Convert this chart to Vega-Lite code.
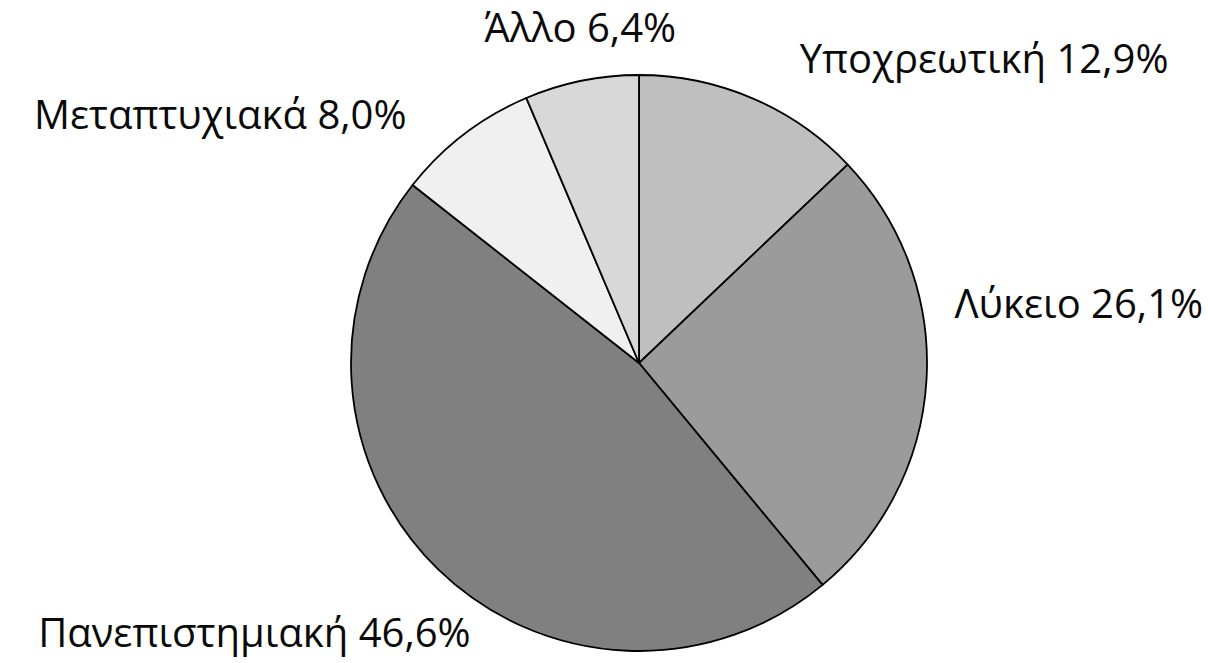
{
  "$schema": "https://vega.github.io/schema/vega-lite/v6.json",
  "autosize": "none",
  "width": 576,
  "height": 576,
  "padding": {"left": 351, "top": 75, "right": 281, "bottom": 12},
  "background": "white",
  "config": {"view": {"stroke": null}, "text": {"font": "Open Sans", "fontSize": 40, "color": "#0a0a0a"}},
  "data": {"values": [
    {"cat": "Υποχρεωτική", "value": 12.9, "order": 1, "label": "Υποχρεωτική 12,9%"},
    {"cat": "Λύκειο", "value": 26.1, "order": 2, "label": "Λύκειο 26,1%"},
    {"cat": "Πανεπιστημιακή", "value": 46.6, "order": 3, "label": "Πανεπιστημιακή 46,6%"},
    {"cat": "Μεταπτυχιακά", "value": 8.0, "order": 4, "label": "Μεταπτυχιακά 8,0%"},
    {"cat": "Άλλο", "value": 6.4, "order": 5, "label": "Άλλο 6,4%"}
  ]},
  "encoding": {
    "theta": {"field": "value", "type": "quantitative", "stack": true},
    "order": {"field": "order", "type": "quantitative"}
  },
  "layer": [
    {
      "mark": {"type": "arc", "stroke": "black", "strokeWidth": 1.8},
      "encoding": {
        "color": {
          "field": "cat", "type": "nominal", "legend": null,
          "scale": {
            "domain": ["Υποχρεωτική", "Λύκειο", "Πανεπιστημιακή", "Μεταπτυχιακά", "Άλλο"],
            "range": ["#bfbfbf", "#9b9b9b", "#808080", "#f0f0f0", "#d8d8d8"]
          }
        }
      }
    },
    {
      "mark": {"type": "text", "radius": 329, "align": "left", "baseline": "middle", "dx": 31},
      "encoding": {"text": {"condition": {"test": "datum.cat === 'Υποχρεωτική'", "field": "label", "type": "nominal"}, "value": ""}}
    },
    {
      "mark": {"type": "text", "radius": 316, "align": "left", "baseline": "middle", "dy": -76},
      "encoding": {"text": {"condition": {"test": "datum.cat === 'Λύκειο'", "field": "label", "type": "nominal"}, "value": ""}}
    },
    {
      "mark": {"type": "text", "radius": 380, "align": "right", "baseline": "middle", "dx": 97},
      "encoding": {"text": {"condition": {"test": "datum.cat === 'Πανεπιστημιακή'", "field": "label", "type": "nominal"}, "value": ""}}
    },
    {
      "mark": {"type": "text", "radius": 310, "align": "right", "baseline": "middle", "dx": -44},
      "encoding": {"text": {"condition": {"test": "datum.cat === 'Μεταπτυχιακά'", "field": "label", "type": "nominal"}, "value": ""}}
    },
    {
      "mark": {"type": "text", "radius": 344, "align": "center", "baseline": "middle", "dx": 10, "dy": 4},
      "encoding": {"text": {"condition": {"test": "datum.cat === 'Άλλο'", "field": "label", "type": "nominal"}, "value": ""}}
    }
  ]
}
